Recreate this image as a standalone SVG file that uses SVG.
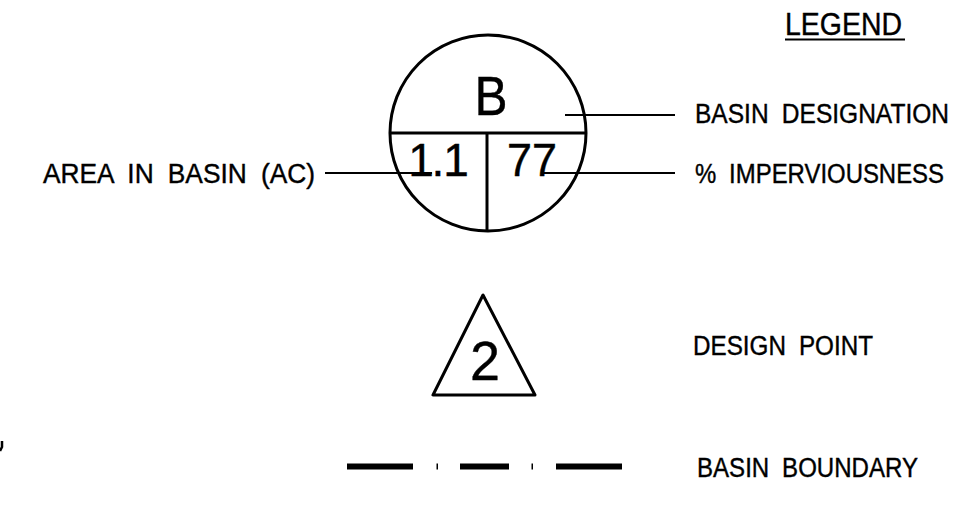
<svg xmlns="http://www.w3.org/2000/svg" width="968" height="508" viewBox="0 0 968 508">
<style>
.t{font-family:"Liberation Sans",Arial,sans-serif;fill:#000;stroke:#000;stroke-width:0.4}
.lbl{font-size:27px;word-spacing:7px}
.sym{fill:none;stroke:#000;stroke-width:3}
.lead{fill:none;stroke:#000;stroke-width:2}
</style>
<rect width="968" height="508" fill="#fff"/>
<g id="legend-title">
<text class="t" x="785" y="35" font-size="31" textLength="117" lengthAdjust="spacingAndGlyphs">LEGEND</text>
<line x1="785" y1="39.5" x2="905" y2="39.5" stroke="#000" stroke-width="2"/>
</g>
<g id="basin-symbol">
<circle class="sym" cx="488" cy="133" r="98"/>
<line class="sym" x1="390" y1="133" x2="586" y2="133"/>
<line class="sym" x1="487" y1="133" x2="487" y2="231"/>
<text class="t" x="491" y="115" font-size="56" text-anchor="middle" textLength="33" lengthAdjust="spacingAndGlyphs">B</text>
<text class="t" y="176" font-size="46" text-anchor="middle"><tspan x="421">1</tspan><tspan x="438">.</tspan><tspan x="456">1</tspan></text>
<text class="t" x="507" y="176" font-size="46" textLength="50" lengthAdjust="spacingAndGlyphs">77</text>
</g>
<g id="connectors">
<line class="lead" x1="565" y1="115" x2="675" y2="115"/>
<line class="lead" x1="325" y1="173" x2="432" y2="173"/>
<line class="lead" x1="543" y1="173" x2="675" y2="173"/>
</g>
<g id="label-basin-designation">
<text class="t lbl" x="695" y="123" textLength="254" lengthAdjust="spacingAndGlyphs">BASIN DESIGNATION</text>
</g>
<g id="label-imperviousness">
<text class="t lbl" x="695" y="183" textLength="249" lengthAdjust="spacingAndGlyphs">% IMPERVIOUSNESS</text>
</g>
<g id="label-area">
<text class="t lbl" x="43" y="183" textLength="272" lengthAdjust="spacingAndGlyphs">AREA IN BASIN (AC)</text>
</g>
<g id="design-point">
<polygon class="sym" points="483,295 433,395 535,395" stroke-linejoin="round"/>
<text class="t" x="485" y="380" font-size="56" text-anchor="middle" textLength="30" lengthAdjust="spacingAndGlyphs">2</text>
<text class="t lbl" x="693" y="355" textLength="180" lengthAdjust="spacingAndGlyphs">DESIGN POINT</text>
</g>
<g id="basin-boundary">
<rect x="347" y="463.5" width="66" height="6" fill="#000"/>
<rect x="436.5" y="463.5" width="1.5" height="6" fill="#000"/>
<rect x="460" y="463.5" width="49" height="6" fill="#000"/>
<rect x="531.5" y="463.5" width="1.5" height="6" fill="#000"/>
<rect x="556" y="463.5" width="66" height="6" fill="#000"/>
<text class="t lbl" x="697" y="477" textLength="221" lengthAdjust="spacingAndGlyphs">BASIN BOUNDARY</text>
</g>
<path d="M2,441 L2,447 L0,451" fill="none" stroke="#000" stroke-width="2.5"/>
</svg>
